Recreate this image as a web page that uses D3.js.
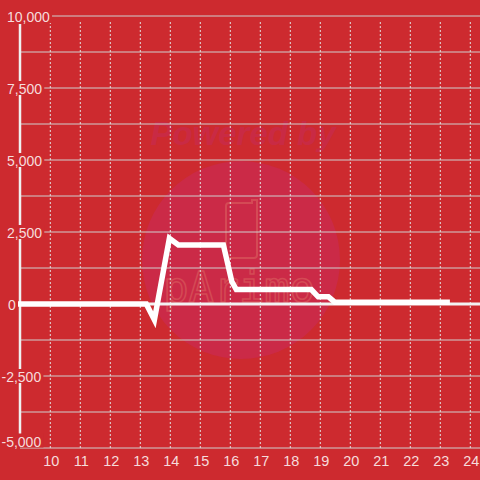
<!DOCTYPE html>
<html>
<head>
<meta charset="utf-8">
<script src="https://cdn.jsdelivr.net/npm/d3@7"></script>
<style>
  html, body { margin: 0; padding: 0; background: #cd2a2f; }
  text { font-family: "Liberation Sans", Arial, sans-serif; }
</style>
</head>
<body>
<svg id="chart"></svg>
<script>
// data
var xVals = [8.89, 13.2, 13.47, 13.97, 14.27, 15.77, 16.05, 16.2, 18.7, 18.93, 19.27, 19.49, 23.32];
var yVals = [0, 0, -550, 2280, 2050, 2050, 780, 500, 500, 250, 250, 60, 60];
var xTicks = [10, 11, 12, 13, 14, 15, 16, 17, 18, 19, 20, 21, 22, 23, 24];
var yTicks = [10000, 7500, 5000, 2500, 0, -2500, -5000];
var yGrid = [10000, 8750, 7500, 6250, 5000, 3750, 2500, 1250, 0, -1250, -2500, -3750, -5000];

var width = 480, height = 480;
var bg = "#cd2a2f";
var format = d3.format(",");

var svg = d3.select("#chart")
    .attr("width", width)
    .attr("height", height);

svg.append("rect")
    .attr("width", width)
    .attr("height", height)
    .attr("fill", bg);

var x = d3.scaleLinear().domain([10, 24]).range([50.3, 470.3]);
var y = d3.scaleLinear().domain([-5000, 10000]).range([448, 16]);

// watermark
var wm = svg.append("g").attr("class", "watermark");
wm.append("circle")
    .attr("cx", 241).attr("cy", 260).attr("r", 99)
    .attr("fill", "#cb2a47");
wm.append("text")
    .attr("x", 243).attr("y", 145)
    .attr("text-anchor", "middle")
    .style("font-size", "33px")
    .style("font-weight", "bold")
    .style("font-style", "italic")
    .attr("fill", "#c92a44")
    .text("Powered by");
wm.append("path")
    .attr("d", "M226,258 V206 Q226,203 229,203 H252 V200 H257 V255 Q257,258 254,258 Z")
    .attr("fill", "none")
    .attr("stroke", "#d44a55")
    .attr("stroke-width", 2);
wm.append("text")
    .attr("x", 239).attr("y", 302)
    .attr("text-anchor", "middle")
    .style("font-family", "DejaVu Sans Mono, monospace")
    .style("font-size", "42px")
    .attr("fill", "none")
    .attr("stroke", "#d44a55")
    .attr("stroke-width", 1.5)
    .text("pArimo");

// horizontal grid
svg.append("g")
  .selectAll("line")
  .data(yGrid)
  .enter().append("line")
    .attr("x1", 20).attr("x2", width)
    .attr("y1", function(d) { return y(d); })
    .attr("y2", function(d) { return y(d); })
    .attr("stroke", "#cfcfcf")
    .attr("stroke-width", 1);

// vertical dashed grid
svg.append("g")
  .selectAll("line")
  .data(xTicks)
  .enter().append("line")
    .attr("x1", function(d) { return x(d); })
    .attr("x2", function(d) { return x(d); })
    .attr("y1", y(-5000))
    .attr("y2", 20)
    .attr("stroke", "#e2e2e2")
    .attr("stroke-width", 1)
    .attr("stroke-dasharray", "2,2");

// zero line
svg.append("line")
    .attr("x1", 17).attr("x2", width)
    .attr("y1", y(0)).attr("y2", y(0))
    .attr("stroke", "#f2f2f2")
    .attr("stroke-width", 3);

// left axis bar
svg.append("line")
    .attr("x1", 20).attr("x2", 20)
    .attr("y1", 24).attr("y2", 437)
    .attr("stroke", "#f0f0f0")
    .attr("stroke-width", 2.5);

// the series
var line = d3.line()
    .x(function(d, i) { return x(xVals[i]); })
    .y(function(d, i) { return y(yVals[i]); });

svg.append("path")
    .datum(yVals)
    .attr("d", line)
    .attr("fill", "none")
    .attr("stroke", "#ffffff")
    .attr("stroke-width", 5.5)
    .attr("stroke-linejoin", "miter");

// y labels with background (bottom one is kept inside the plot)
var yl = svg.append("g")
  .selectAll("g")
  .data(yTicks)
  .enter().append("g")
    .attr("transform", function(d) { return "translate(7," + Math.min(y(d) + 6, 446.5) + ")"; });

yl.append("text")
    .attr("dx", function(d) { return d < 0 ? -5.5 : (d == 0 ? 1 : 0); })
    .attr("fill", "#f6dcdc")
    .style("font-size", "14px")
    .text(function(d) { return format(d).replace("\u2212", "-"); });

yl.each(function() {
  var g = d3.select(this);
  var bb = g.select("text").node().getBBox();
  g.insert("rect", "text")
    .attr("x", bb.x - 2).attr("y", -13)
    .attr("width", bb.width + 4).attr("height", 14)
    .attr("fill", bg);
});

// x labels
svg.append("g")
  .selectAll("text")
  .data(xTicks)
  .enter().append("text")
    .attr("x", function(d) { return x(d) + 1; })
    .attr("y", 466)
    .attr("text-anchor", "middle")
    .attr("fill", "#f6dcdc")
    .style("font-size", "14.5px")
    .text(function(d) { return d; });
</script>
</body>
</html>
